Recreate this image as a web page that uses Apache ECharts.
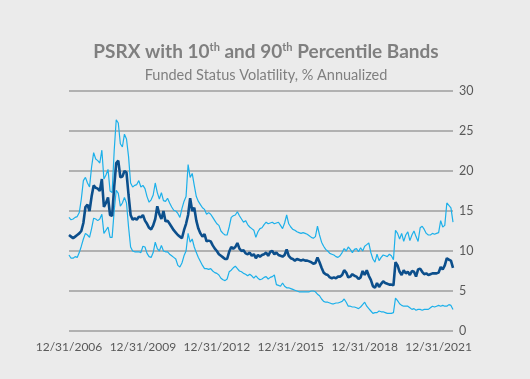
<!DOCTYPE html>
<html>
<head>
<meta charset="utf-8">
<script src="https://cdn.jsdelivr.net/npm/echarts@6/dist/echarts.min.js"></script>
<style>
html,body{margin:0;padding:0;background:#ebebeb;}
#chart{width:530px;height:379px;}
</style>
</head>
<body>
<div id="chart"></div>
<script>
// Monthly observations, 12/31/2006 through 7/31/2022
var startYear = 2006, startMonth = 11; // December 2006
var tickLabels = ["12/31/2006","12/31/2009","12/31/2012","12/31/2015","12/31/2018","12/31/2021"];
var yTicks = [0,5,10,15,20,25,30];

var psrx = [
12.0,11.8,11.6,11.8,12.0,12.2,12.5,13.5,15.5,15.8,15.0,16.8,
18.2,17.9,17.8,17.5,19.0,15.5,16.0,16.7,14.5,14.4,18.0,21.0,
21.3,19.2,19.3,20.0,19.8,17.0,14.5,13.9,14.1,13.9,14.3,14.2,
14.5,13.8,13.4,12.9,12.7,13.2,14.0,15.6,14.6,14.0,15.0,13.7,
13.8,13.4,13.0,12.6,12.3,12.0,11.8,11.6,12.6,13.4,14.5,16.6,
15.0,15.4,13.8,12.8,12.2,11.8,12.1,11.2,11.3,11.2,10.7,10.3,
10.0,9.6,9.4,9.2,9.0,9.0,9.9,10.5,10.3,10.5,11.0,10.3,
10.0,10.1,9.7,9.6,9.8,9.4,9.6,9.1,9.5,9.3,9.5,9.6,
9.8,9.4,9.9,10.0,9.6,9.8,9.5,9.4,9.3,9.5,10.2,9.4,
9.1,9.0,8.8,9.0,8.9,8.8,8.9,8.8,8.8,8.7,8.6,8.4,
8.5,9.2,8.6,7.9,7.3,7.1,7.0,6.7,6.6,6.7,6.6,6.8,
6.8,7.0,7.6,7.3,6.7,6.8,7.1,6.9,6.8,6.5,6.7,7.5,
7.0,7.6,6.9,6.4,5.6,5.4,6.0,5.5,5.9,6.2,6.0,5.9,
5.8,5.8,5.7,8.6,8.2,7.4,7.0,7.6,7.2,7.4,7.0,7.5,
7.4,6.8,7.7,7.8,7.4,7.1,7.2,7.0,7.1,7.2,7.2,7.2,
7.3,8.0,7.7,8.2,9.1,8.9,8.8,7.9
];

var p90 = [
14.2,13.9,14.0,14.2,14.3,14.8,16.5,18.8,19.2,18.5,18.0,20.5,
22.3,21.5,21.3,21.0,22.6,19.0,19.5,20.2,17.5,17.3,22.5,26.4,
26.0,23.4,23.0,24.6,24.0,21.8,18.5,18.0,18.2,18.3,18.8,18.0,
18.2,17.8,16.8,16.1,16.4,17.0,18.5,17.3,16.5,17.3,16.3,16.2,
16.6,16.0,15.5,15.1,15.0,14.7,14.2,15.3,16.2,16.8,20.8,19.2,
19.7,18.2,16.8,16.2,15.8,15.4,15.2,14.6,14.8,14.6,14.2,13.8,
13.4,13.2,12.5,12.2,12.0,12.0,13.0,14.2,14.4,14.5,14.9,14.4,
14.0,13.6,13.8,13.3,13.0,12.8,12.6,11.7,12.4,12.8,12.9,13.3,
13.6,13.4,13.5,13.6,13.4,13.5,13.6,13.2,12.8,13.5,14.5,13.4,
13.0,12.7,12.6,12.4,12.3,12.2,12.3,12.2,12.1,11.9,11.7,11.6,
11.8,13.1,12.0,11.1,10.6,10.2,10.0,9.7,9.6,9.5,9.3,9.2,
9.4,9.8,10.3,10.0,10.5,10.2,9.8,10.2,10.3,9.9,10.4,10.0,
10.6,10.8,11.0,9.8,9.0,8.6,9.6,8.8,9.2,9.5,9.4,9.3,
9.6,9.4,8.9,12.6,12.2,11.5,12.2,11.2,12.0,12.4,11.3,12.0,
12.5,11.8,11.2,12.9,13.1,12.7,12.2,12.0,12.0,12.2,12.1,12.2,
12.3,13.8,13.0,13.2,16.0,15.7,15.4,13.6
];

var p10 = [
9.5,9.1,9.1,9.3,9.2,9.8,10.6,11.5,12.2,12.0,11.7,12.8,
14.1,14.0,13.8,14.0,14.6,12.2,12.6,13.0,11.7,11.7,15.0,17.6,
17.2,15.6,16.0,16.7,16.0,13.0,10.5,10.0,9.9,9.9,9.9,9.8,
10.6,10.5,9.7,9.3,9.2,9.8,11.1,10.3,10.0,10.7,10.0,9.9,
9.9,9.6,9.4,9.2,9.0,8.2,8.0,8.5,9.4,10.0,12.2,11.1,
11.5,10.5,9.8,9.2,8.7,8.2,7.8,7.8,7.7,7.8,7.5,7.3,
7.2,7.0,6.6,6.4,6.3,6.5,7.4,7.6,7.9,8.1,7.8,7.5,
7.4,7.2,7.1,6.9,7.1,6.9,6.6,6.9,6.6,6.4,6.5,6.7,
6.8,6.5,6.7,6.8,7.0,5.8,5.7,5.6,6.0,5.6,5.4,5.4,
5.3,5.2,5.1,5.0,4.9,4.9,4.9,4.9,4.9,4.9,5.0,5.0,
4.9,4.6,4.4,4.0,3.7,3.6,3.6,3.5,3.4,3.4,3.5,3.5,
3.6,3.7,4.0,3.6,3.1,3.1,3.0,3.0,2.9,2.8,3.0,3.3,
3.6,3.1,2.8,2.5,2.2,2.3,2.3,2.5,2.4,2.4,2.3,2.2,
2.2,2.2,2.3,4.1,3.8,3.4,3.2,3.1,3.1,3.1,2.9,2.7,
2.8,2.6,2.7,2.7,2.6,2.7,2.7,2.7,2.9,3.1,3.0,3.1,
3.2,3.1,3.2,3.1,3.1,3.3,3.2,2.7
];

// month-end category labels
var categories = [];
for (var i = 0; i < psrx.length; i++) {
  var m = startMonth + i;
  var y = startYear + Math.floor(m / 12);
  var mm = m % 12;
  var last = new Date(Date.UTC(y, mm + 1, 0)).getUTCDate();
  categories.push((mm + 1) + '/' + last + '/' + y);
}

var chart = echarts.init(document.getElementById('chart'), null, {renderer: 'canvas'});
var font = 'Lato, "Open Sans", sans-serif';
chart.setOption({
  backgroundColor: '#ebebeb',
  animation: false,
  title: [{
    text: 'PSRX with 10{s|th} and 90{s|th} Percentile Bands',
    left: 261, top: 37, textAlign: 'center',
    textStyle: {
      fontFamily: font, fontSize: 19, fontWeight: 'bold', color: '#7f7f7f',
      rich: { s: {fontFamily: font, fontSize: 11, fontWeight: 'bold', color: '#7f7f7f', verticalAlign: 'top', lineHeight: 15} }
    }
  }, {
    text: 'Funded Status Volatility, % Annualized',
    left: 261, top: 63, textAlign: 'center',
    textStyle: {fontFamily: font, fontSize: 14.5, fontWeight: 'normal', color: '#7f7f7f'}
  }],
  grid: {left: 69, right: 77, top: 91, bottom: 48, containLabel: false},
  xAxis: {
    type: 'category',
    data: categories,
    boundaryGap: false,
    axisLine: {show: false},
    axisTick: {show: false},
    splitLine: {show: false},
    axisLabel: {
      interval: function (idx, val) { return tickLabels.indexOf(val) >= 0; },
      margin: 10,
      fontFamily: font, fontSize: 12, color: '#595959'
    }
  },
  yAxis: {
    type: 'value',
    position: 'right',
    min: yTicks[0], max: yTicks[yTicks.length - 1], interval: 5,
    axisLine: {show: false},
    axisTick: {show: false},
    axisLabel: {margin: 6, fontFamily: font, fontSize: 12.5, color: '#595959'},
    splitLine: {lineStyle: {color: '#9e9e9e', width: 1.5}}
  },
  series: [{
    name: '90th', type: 'line', data: p90, showSymbol: false,
    lineStyle: {color: '#1cb0ea', width: 1.2}, itemStyle: {color: '#1cb0ea'}
  }, {
    name: '10th', type: 'line', data: p10, showSymbol: false,
    lineStyle: {color: '#1cb0ea', width: 1.2}, itemStyle: {color: '#1cb0ea'}
  }, {
    name: 'PSRX', type: 'line', data: psrx, showSymbol: false,
    lineStyle: {color: '#0c4f8c', width: 2.6}, itemStyle: {color: '#0c4f8c'}, z: 5
  }]
});
</script>
</body>
</html>
